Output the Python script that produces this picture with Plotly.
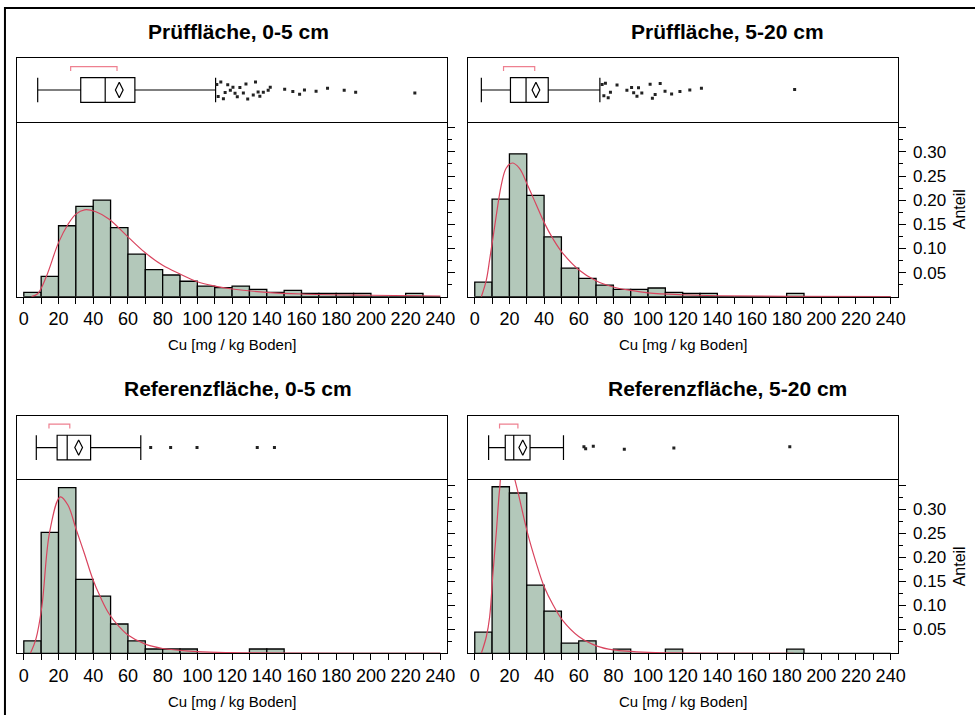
import plotly.graph_objects as go

W, H = 975, 715
FONT = "Liberation Sans, Arial, sans-serif"

# ---------------- data ----------------
titles = ["Prüffläche, 0-5 cm", "Prüffläche, 5-20 cm",
          "Referenzfläche, 0-5 cm", "Referenzfläche, 5-20 cm"]
x_title = "Cu [mg / kg Boden]"
y_title = "Anteil"

bin_left = list(range(0, 240, 10))          # histogram bins, width 10
bin_width = 10

hist_pf_05 = [0.009, 0.042, 0.147, 0.187, 0.200, 0.143, 0.088, 0.056, 0.045, 0.032,
              0.022, 0.019, 0.022, 0.015, 0.009, 0.013, 0.007, 0.007, 0.007, 0.007,
              0, 0, 0.007, 0]
hist_pf_520 = [0.030, 0.202, 0.296, 0.210, 0.124, 0.059, 0.038, 0.024, 0.015, 0.015,
               0.018, 0.009, 0.007, 0.007, 0, 0, 0, 0, 0.007, 0, 0, 0, 0, 0]
hist_rf_05 = [0.026, 0.252, 0.345, 0.154, 0.119, 0.061, 0.026, 0.009, 0.009, 0.009,
              0, 0, 0, 0.009, 0.009, 0, 0, 0, 0, 0, 0, 0, 0, 0]
hist_rf_520 = [0.044, 0.347, 0.334, 0.142, 0.088, 0.021, 0.026, 0, 0.0085, 0,
               0, 0.0085, 0, 0, 0, 0, 0, 0, 0.0085, 0, 0, 0, 0, 0]

# fitted density curves
curve_pf_05_x = [4.4, 8, 13, 20, 25.5, 30, 35, 41.5, 49, 60, 70, 80, 90, 100, 110, 120, 140, 160, 200, 240]
curve_pf_05_y = [0, 0.006, 0.042, 0.112, 0.150, 0.171, 0.180, 0.176, 0.161, 0.124, 0.091,
                 0.065, 0.047, 0.031, 0.022, 0.016, 0.009, 0.0056, 0.003, 0.0014]
curve_pf_520_x = [3.8, 6.7, 8.6, 10.5, 12.4, 15.3, 18.1, 21.6, 25.8, 30.5, 35.3, 40, 45.3, 50.6,
                  60, 70, 80, 90, 100, 120, 140, 180, 240]
curve_pf_520_y = [0, 0.035, 0.077, 0.122, 0.168, 0.231, 0.266, 0.277, 0.266, 0.231, 0.192, 0.154,
                  0.119, 0.091, 0.056, 0.033, 0.020, 0.013, 0.008, 0.004, 0.002, 0.0007, 0.0002]
curve_rf_05_x = [3.8, 7, 10.4, 14.9, 21, 25.4, 30, 34.9, 39.6, 44.4, 49, 54.8, 60, 70, 80, 100, 120, 240]
curve_rf_05_y = [0, 0.03, 0.097, 0.253, 0.326, 0.309, 0.26, 0.208, 0.156, 0.115, 0.083, 0.056,
                 0.038, 0.019, 0.010, 0.0035, 0.0015, 0]
curve_rf_520_x = [3.8, 6.7, 8.6, 10.5, 12.4, 14.3, 16, 19, 22, 24.3, 30.5, 35.3, 40, 45.3, 50.6,
                  60, 70.6, 80, 100, 184]
curve_rf_520_y = [0, 0.035, 0.076, 0.167, 0.25, 0.34, 0.385, 0.395, 0.375, 0.345, 0.25, 0.19,
                  0.139, 0.10, 0.069, 0.035, 0.015, 0.007, 0.002, 0]

# box plot statistics: lower whisker, Q1, median, mean, Q3, upper whisker
box_lo = [8.0, 3.8, 7.2, 8.0]
box_q1 = [32.8, 20.6, 19.2, 17.6]
box_med = [46.9, 29.6, 25.0, 22.5]
box_mean = [55.0, 35.3, 31.6, 27.7]
box_q3 = [64.0, 42.4, 38.5, 31.9]
box_hi = [110.5, 72.2, 67.4, 51.2]
# red bracket (shortest half) above the box
bracket_lo = [27.0, 16.6, 14.5, 14.3]
bracket_hi = [53.7, 34.6, 26.5, 24.9]

out_pf_05 = [111.2, 112.0, 113.5, 115.0, 116.0, 117.5, 119.0, 120.5, 121.7, 123.0, 124.5,
             126.5, 128.0, 129.0, 132.2, 133.5, 135.0, 136.0, 138.0, 140.8, 142.0,
             150.3, 155.0, 158.9, 161.7, 168.4, 175.0, 184.6, 191.2, 225.3]
out_pf_520 = [73.5, 74.5, 75.4, 77.0, 78.3, 82.1, 87.8, 90.5, 91.7, 93.6, 94.5, 96.4,
              101.2, 102.5, 104.1, 107.0, 109.8, 113.6, 118.4, 124.1, 130.8, 184.6]
out_rf_05 = [73.1, 84.6, 99.8, 134.5, 144.4]
out_rf_520 = [63.0, 64.0, 68.4, 86.3, 114.9, 181.8]

hists = [hist_pf_05, hist_pf_520, hist_rf_05, hist_rf_520]
curves = [(curve_pf_05_x, curve_pf_05_y), (curve_pf_520_x, curve_pf_520_y),
          (curve_rf_05_x, curve_rf_05_y), (curve_rf_520_x, curve_rf_520_y)]
outliers = [out_pf_05, out_pf_520, out_rf_05, out_rf_520]
jitters = [0.85, 0.85, 0.0, 0.15]

x_ticks = list(range(0, 241, 20))
y_ticks = [0.05, 0.10, 0.15, 0.20, 0.25, 0.30, 0.35]
y_ticktext = ["0.05", "0.10", "0.15", "0.20", "0.25", "0.30", ""]
y_minor = [0.025, 0.075, 0.125, 0.175, 0.225, 0.275, 0.325]

# ---------------- styling / layout ----------------
BAR_FILL = "#b3c8ba"
CURVE = "#d9445e"
BRACKET = "#ee8090"
X_RANGE = [-4, 244]
Y_RANGE = [0, 0.3625]
BOX_RANGE = [-0.5, 0.5]
BOX_W = 0.39

def px_x(p):
    return p / W

def px_y(p):
    return 1 - p / H

col_x = [(17, 451), (471.7, 905)]
title_cx = [240, 734]
row_y = [(58.3, 121.7, 296.7), (415.9, 479.3, 653.3)]

fig = go.Figure()
layout = dict(width=W, height=H, margin=dict(l=0, r=0, t=0, b=0), autosize=False,
              paper_bgcolor="white", plot_bgcolor="white", showlegend=False,
              font=dict(family=FONT, size=17, color="black"), boxmode="overlay")
annotations = []

for i in range(4):
    r, c = divmod(i, 2)
    xd = [px_x(col_x[c][0]), px_x(col_x[c][1])]
    top, mid, bot = row_y[r]
    hn = 2 * i + 1      # histogram axes
    bn = 2 * i + 2      # box axes
    hx, hy = f"x{hn}", f"y{hn}"
    bx, by = f"x{bn}", f"y{bn}"

    # histogram axes
    layout[f"xaxis{hn}"] = dict(domain=xd, anchor=hy, range=X_RANGE, showline=True,
                                linecolor="black", linewidth=1.3, ticks="outside", ticklen=6,
                                tickwidth=1, tickcolor="black", tickvals=x_ticks,
                                minor=dict(dtick=10, tick0=0, ticks="outside", ticklen=6,
                                           tickcolor="black", tickwidth=1),
                                showgrid=False, zeroline=False, tickfont=dict(size=18))
    layout[f"yaxis{hn}"] = dict(domain=[px_y(bot), px_y(mid)], anchor=hx, side="right",
                                range=Y_RANGE, showline=True, linecolor="black", linewidth=1.3,
                                mirror=True, ticks="outside", ticklen=7, tickwidth=1,
                                tickcolor="black", tickvals=y_ticks, ticktext=y_ticktext,
                                minor=dict(tickvals=y_minor, ticks="outside", ticklen=4,
                                           tickcolor="black", tickwidth=1),
                                ticklabelstandoff=4,
                                showticklabels=(c == 1), showgrid=False, zeroline=False,
                                tickfont=dict(size=17))
    # box axes
    layout[f"xaxis{bn}"] = dict(domain=xd, anchor=by, range=X_RANGE, showline=True,
                                linecolor="black", linewidth=1.3, mirror=True, ticks="",
                                showticklabels=False, showgrid=False, zeroline=False)
    layout[f"yaxis{bn}"] = dict(domain=[px_y(mid), px_y(top)], anchor=bx, range=BOX_RANGE,
                                showline=True, linecolor="black", linewidth=1.3, mirror=True,
                                ticks="", showticklabels=False, showgrid=False, zeroline=False)

    # histogram bars
    fig.add_trace(go.Bar(x=[b + bin_width / 2 for b in bin_left], y=hists[i], width=bin_width,
                         marker=dict(color=BAR_FILL, line=dict(color="black", width=1.3)),
                         xaxis=hx, yaxis=hy, hoverinfo="skip"))
    # density curve
    fig.add_trace(go.Scatter(x=curves[i][0], y=curves[i][1], mode="lines",
                             line=dict(color=CURVE, width=1.2, shape="spline", smoothing=1.0),
                             xaxis=hx, yaxis=hy, hoverinfo="skip"))

    # box
    fig.add_trace(go.Box(orientation="h", y=[0], q1=[box_q1[i]], median=[box_med[i]],
                         q3=[box_q3[i]], lowerfence=[box_lo[i]], upperfence=[box_hi[i]],
                         width=BOX_W, whiskerwidth=1, fillcolor="white",
                         line=dict(color="black", width=1.2), boxpoints=False,
                         xaxis=bx, yaxis=by, hoverinfo="skip"))
    # outliers (library jitter)
    fig.add_trace(go.Box(orientation="h", x=outliers[i], y0=0, width=BOX_W,
                         boxpoints="all", jitter=jitters[i], pointpos=0,
                         fillcolor="rgba(0,0,0,0)", line=dict(color="rgba(0,0,0,0)", width=0),
                         whiskerwidth=0,
                         marker=dict(symbol="square", size=3, color="#222222"),
                         xaxis=bx, yaxis=by, hoverinfo="skip"))
    # mean
    fig.add_trace(go.Scatter(x=[box_mean[i]], y=[0], mode="markers",
                             marker=dict(symbol="diamond-tall-open", size=11, color="black",
                                         line=dict(color="black", width=1.2)),
                             xaxis=bx, yaxis=by, hoverinfo="skip"))
    # bracket
    fig.add_trace(go.Scatter(x=[bracket_lo[i], bracket_lo[i], bracket_hi[i], bracket_hi[i]],
                             y=[0.30, 0.37, 0.37, 0.30], mode="lines",
                             line=dict(color=BRACKET, width=1.2),
                             xaxis=bx, yaxis=by, hoverinfo="skip"))

    cx = (xd[0] + xd[1]) / 2
    annotations.append(dict(text=f"<b>{titles[i]}</b>", x=px_x(title_cx[c]), y=px_y(top - 27),
                            xref="paper", yref="paper", showarrow=False,
                            xanchor="center", yanchor="middle", font=dict(size=21)))
    annotations.append(dict(text=x_title, x=cx, y=px_y(bot + 48), xref="paper", yref="paper",
                            showarrow=False, xanchor="center", yanchor="middle",
                            font=dict(size=15)))
    if c == 1:
        annotations.append(dict(text=y_title, x=px_x(967), y=px_y((mid + bot) / 2),
                                xref="paper", yref="paper", showarrow=False, textangle=-90,
                                xanchor="center", yanchor="middle", font=dict(size=16)))

layout["annotations"] = annotations
layout["shapes"] = [dict(type="rect", xref="paper", yref="paper", x0=px_x(5), x1=1.02,
                         y0=-0.02, y1=px_y(8), line=dict(color="black", width=2))]
fig.update_layout(**layout)
fig.write_html("out.html",
               post_script="document.body.style.margin='0';"
                           "document.body.style.overflow='hidden';"
                           "document.documentElement.style.overflow='hidden';",
               config={"displayModeBar": False, "responsive": False})
